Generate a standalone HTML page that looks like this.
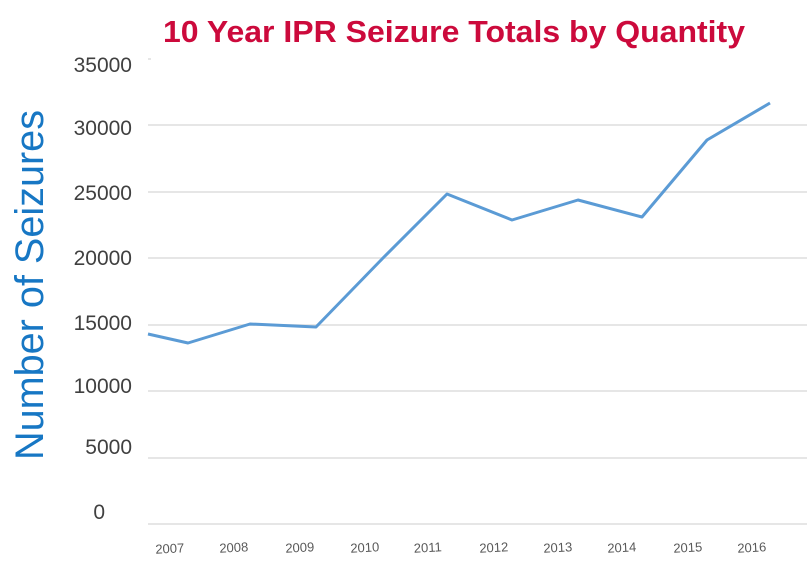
<!DOCTYPE html>
<html><head><style>
body{margin:0;width:807px;height:566px;background:#fff;overflow:hidden;font-family:"Liberation Sans",sans-serif}
</style></head><body>
<svg width="807" height="566" xmlns="http://www.w3.org/2000/svg" font-family="Liberation Sans, sans-serif">
<text x="454" y="42" text-anchor="middle" font-size="31" font-weight="bold" fill="#cc0a3c" textLength="582" lengthAdjust="spacingAndGlyphs">10 Year IPR Seizure Totals by Quantity</text>
<text transform="translate(43,285) rotate(-90)" text-anchor="middle" font-size="40" fill="#1777c4" textLength="350" lengthAdjust="spacingAndGlyphs">Number of Seizures</text>
<g stroke="#e6e6e6" stroke-width="2">
<line x1="148" y1="59" x2="151" y2="59"/>
<line x1="148" y1="125" x2="807" y2="125"/>
<line x1="148" y1="192" x2="807" y2="192"/>
<line x1="148" y1="258" x2="807" y2="258"/>
<line x1="148" y1="325" x2="807" y2="325"/>
<line x1="148" y1="391" x2="807" y2="391"/>
<line x1="148" y1="458" x2="807" y2="458"/>
<line x1="148" y1="524" x2="807" y2="524"/>
</g>
<g font-size="21" fill="#404040" text-anchor="end">
<text x="132" y="72">35000</text>
<text x="132" y="135">30000</text>
<text x="132" y="200">25000</text>
<text x="132" y="265">20000</text>
<text x="132" y="330">15000</text>
<text x="132" y="393">10000</text>
<text x="132" y="454">5000</text>
<text x="105" y="519">0</text>
</g>
<polyline fill="none" stroke="#5b9bd5" stroke-width="3" stroke-linejoin="round" points="148,334 188,343 250,324 316,327 383,258 447,194 512,220 578,200 642,217 707,140 770,103"/>
<g font-size="13" fill="#595959" text-anchor="middle">
<text transform="translate(170,553) rotate(-3)">2007</text>
<text transform="translate(234,552) rotate(-3)">2008</text>
<text transform="translate(300,552) rotate(-3)">2009</text>
<text transform="translate(365,552) rotate(-3)">2010</text>
<text transform="translate(428,552) rotate(-3)">2011</text>
<text transform="translate(494,552) rotate(-3)">2012</text>
<text transform="translate(558,552) rotate(-3)">2013</text>
<text transform="translate(622,552) rotate(-3)">2014</text>
<text transform="translate(688,552) rotate(-3)">2015</text>
<text transform="translate(752,552) rotate(-3)">2016</text>
</g>
</svg>
</body></html>
